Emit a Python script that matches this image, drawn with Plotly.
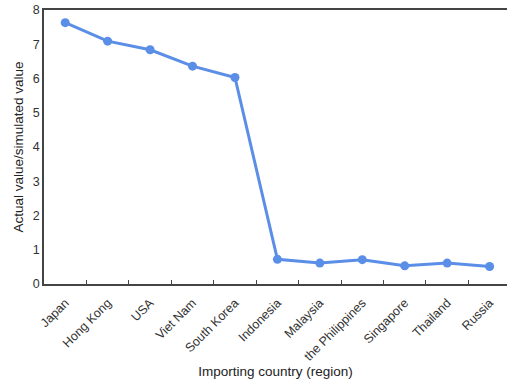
import plotly.graph_objects as go

countries = ["Japan", "Hong Kong", "USA", "Viet Nam", "South Korea", "Indonesia",
             "Malaysia", "the Philippines", "Singapore", "Thailand", "Russia"]
ratio = [7.63, 7.09, 6.84, 6.36, 6.03, 0.72, 0.61, 0.71, 0.53, 0.61, 0.51]

fig = go.Figure()
fig.add_trace(go.Scatter(
    x=countries, y=ratio, mode="lines+markers",
    line=dict(color="#5b8ee6", width=3),
    marker=dict(color="#5b8ee6", size=9),
    showlegend=False,
))

font = "Liberation Sans, Arial, sans-serif"
fig.update_layout(
    width=507, height=381,
    margin=dict(l=44, r=0, t=10, b=97),
    paper_bgcolor="white", plot_bgcolor="white",
    font=dict(family=font, size=12, color="#333333"),
    xaxis=dict(
        type="category", range=[-0.5, 10.41], automargin=False,
        tickson="boundaries", ticks="inside", ticklen=4, tickcolor="#444",
        tickangle=-45, showline=True, linecolor="#444", linewidth=1.5, mirror=True,
        showgrid=False, zeroline=False, ticklabelstandoff=5,
        tickfont=dict(size=12.5, color="#333"),
        title=dict(text="Importing country (region)", font=dict(size=13.5, color="#222"), standoff=2),
    ),
    yaxis=dict(
        range=[0, 8], dtick=1, showline=True, linecolor="#444", linewidth=1.5,
        ticks="", showgrid=False, zeroline=False, automargin=False,
        tickfont=dict(size=12.5, color="#333"),
        title=dict(text="Actual value/simulated value", font=dict(size=13.5, color="#222"), standoff=6),
    ),
)
fig.write_html("out.html", config={"displayModeBar": False},
               post_script="document.body.style.margin='0';document.body.style.overflow='hidden';")
